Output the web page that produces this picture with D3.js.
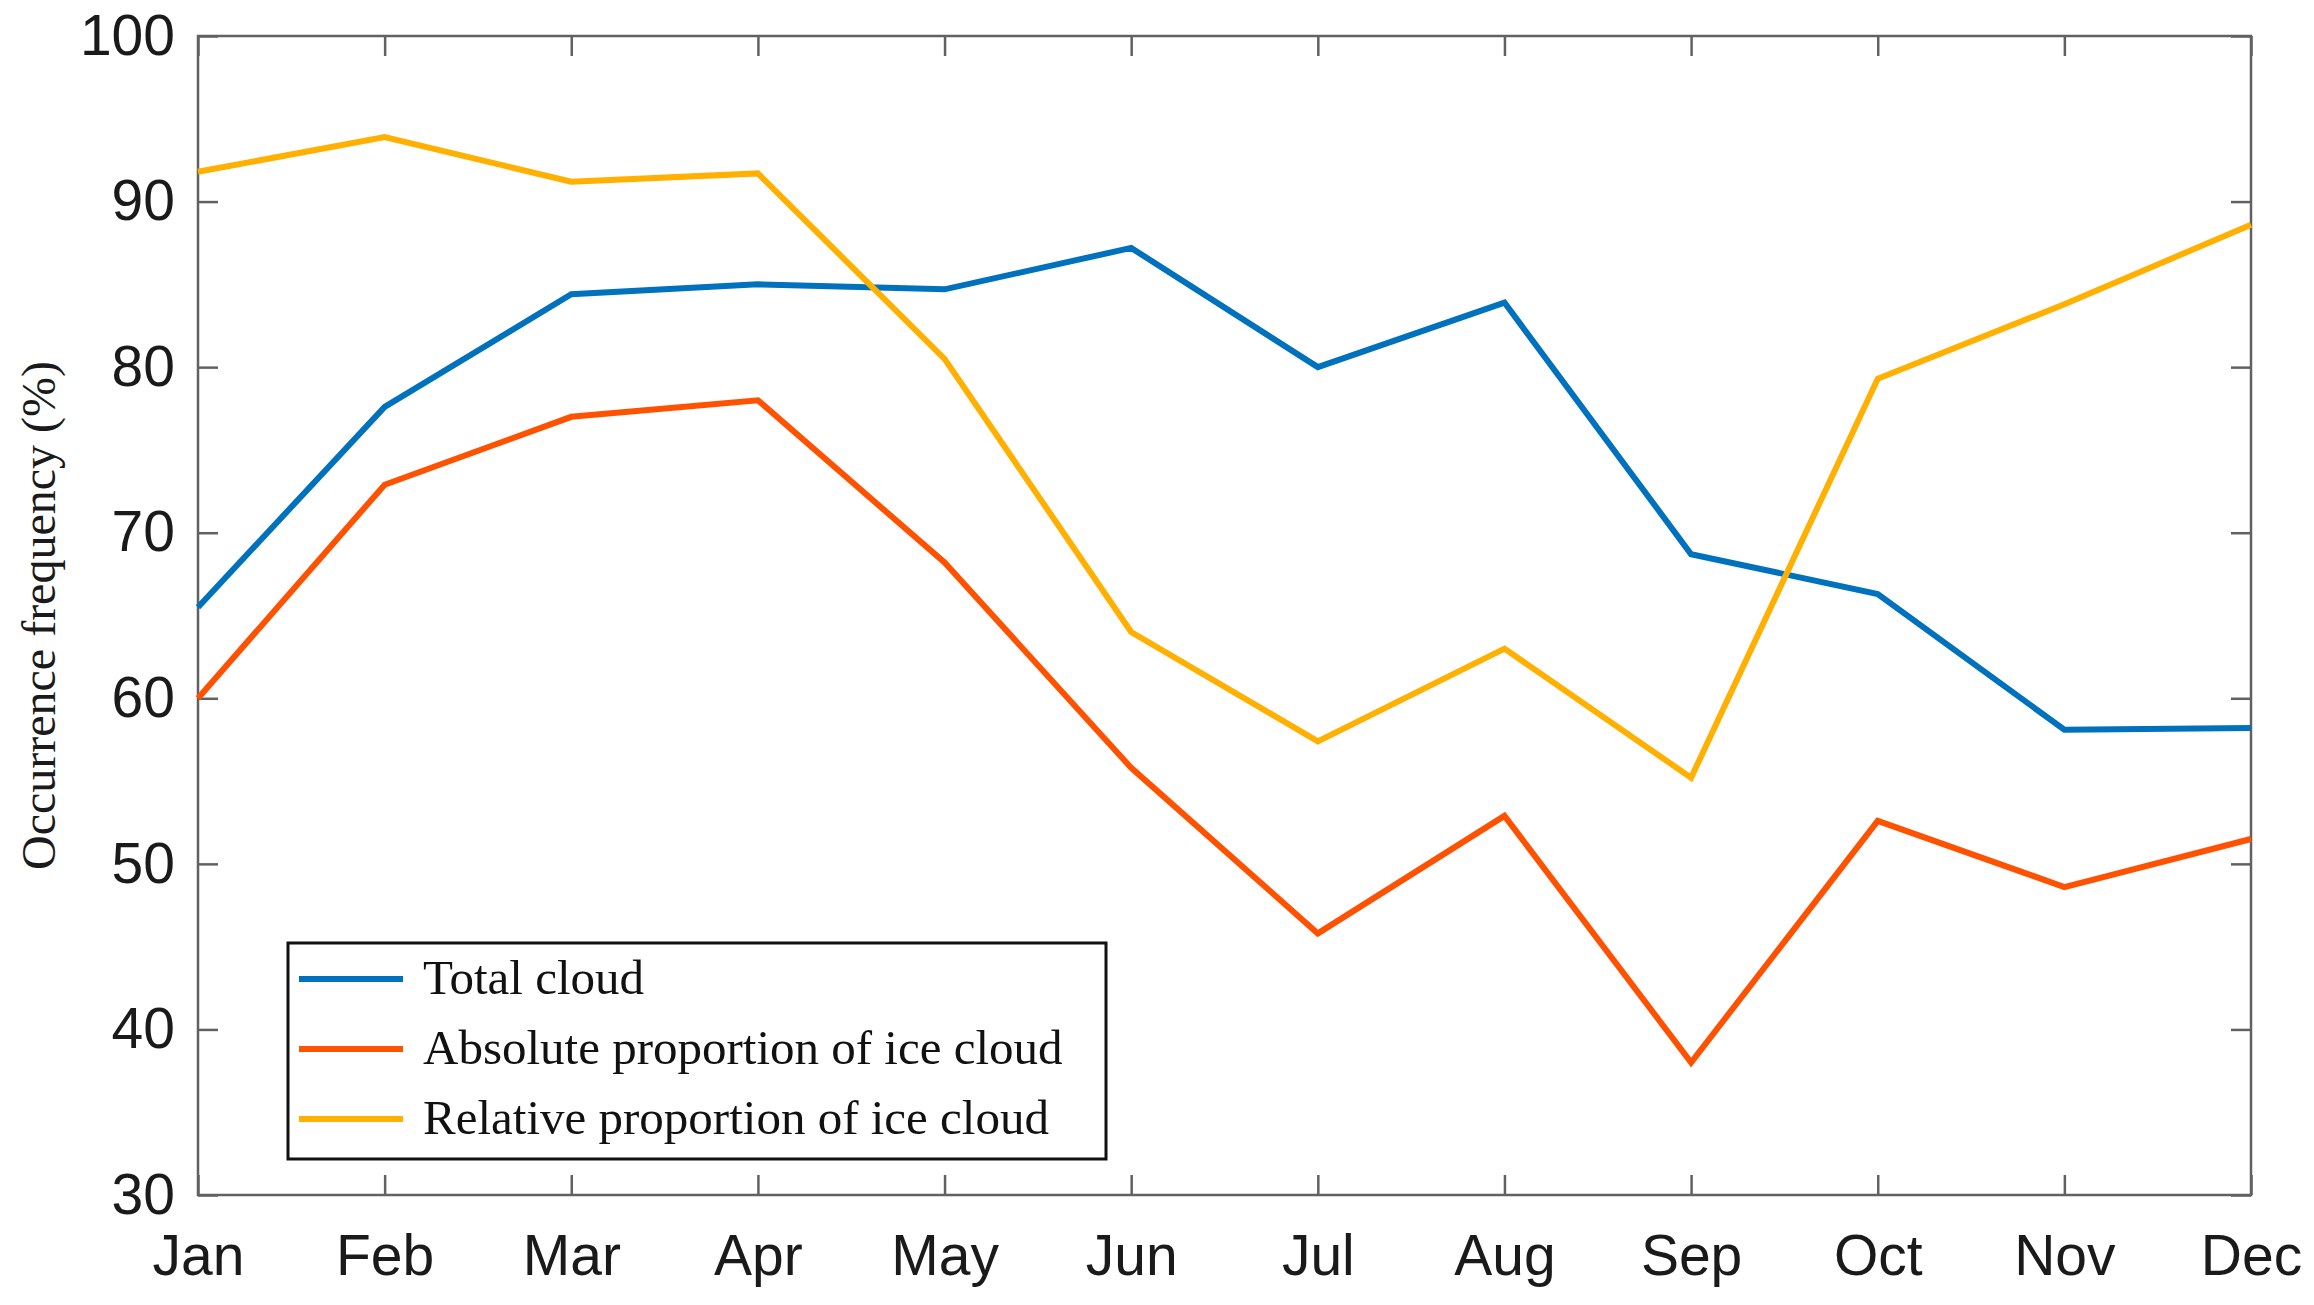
<!DOCTYPE html>
<html>
<head>
<meta charset="utf-8">
<script src="https://cdn.jsdelivr.net/npm/d3@7"></script>
<style>
  html, body { margin: 0; padding: 0; background: #fff; }
  svg { display: block; }
</style>
</head>
<body>
<svg id="chart" width="2314" height="1305"></svg>
<script>
const months = ["Jan","Feb","Mar","Apr","May","Jun","Jul","Aug","Sep","Oct","Nov","Dec"];
const yTicks = [30, 40, 50, 60, 70, 80, 90, 100];
const totalCloud = [65.5, 77.6, 84.4, 85.0, 84.7, 87.2, 80.0, 83.9, 68.7, 66.3, 58.1, 58.2];
const absoluteIce = [60.0, 72.9, 77.0, 78.0, 68.2, 55.8, 45.8, 52.9, 38.0, 52.6, 48.6, 51.5];
const relativeIce = [91.8, 93.9, 91.2, 91.7, 80.5, 64.0, 57.4, 63.0, 55.2, 79.3, 83.8, 88.6];
const seriesNames = ["Total cloud", "Absolute proportion of ice cloud", "Relative proportion of ice cloud"];
const seriesColors = ["#0072BD", "#FF5200", "#FFB000"];
const yLabel = "Occurrence frequency (%)";

const series = [totalCloud, absoluteIce, relativeIce];

const svg = d3.select("#chart");
const L = 198, R = 2251, T = 36, B = 1195;
const x = d3.scalePoint().domain(months).range([L, R]);
const y = d3.scaleLinear().domain([30, 100]).range([B, T]);

const axisColor = "#616161";
const tickFont = "'Liberation Sans', Arial, Helvetica, sans-serif";

function styleAxis(g) {
  g.select(".domain").remove();
  g.selectAll(".tick line").attr("stroke", axisColor).attr("stroke-width", 2.5);
  g.selectAll(".tick text").attr("fill", "#1a1a1a").style("font-family", tickFont).style("font-size", "57px");
}

svg.append("g").attr("transform", `translate(0,${B})`)
  .call(d3.axisBottom(x).tickSizeInner(-20).tickSizeOuter(0).tickPadding(40))
  .call(styleAxis);
svg.append("g").attr("transform", `translate(0,${T})`)
  .call(d3.axisTop(x).tickSizeInner(-20).tickSizeOuter(0).tickFormat(""))
  .call(styleAxis);
svg.append("g").attr("transform", `translate(${L},0)`)
  .call(d3.axisLeft(y).tickValues(yTicks).tickSizeInner(-20).tickSizeOuter(0).tickPadding(23).tickFormat(d3.format("d")))
  .call(styleAxis);
svg.append("g").attr("transform", `translate(${R},0)`)
  .call(d3.axisRight(y).tickValues(yTicks).tickSizeInner(-20).tickSizeOuter(0).tickFormat(""))
  .call(styleAxis);

// axes box
svg.append("rect")
  .attr("x", L).attr("y", T).attr("width", R - L).attr("height", B - T)
  .attr("fill", "none").attr("stroke", axisColor).attr("stroke-width", 2.5);

// lines
const line = d3.line().x((d, i) => x(months[i])).y(d => y(d));
series.forEach((s, k) => {
  svg.append("path")
    .datum(s)
    .attr("d", line)
    .attr("fill", "none")
    .attr("stroke", seriesColors[k])
    .attr("stroke-width", 6)
    .attr("stroke-linejoin", "miter")
    .attr("stroke-linecap", "butt");
});

// y label
svg.append("text")
  .attr("transform", `translate(55,${(T + B) / 2}) rotate(-90)`)
  .attr("text-anchor", "middle")
  .style("font-family", "'Liberation Serif', 'Times New Roman', serif")
  .style("font-size", "48px")
  .attr("fill", "#1a1a1a")
  .text(yLabel);

// legend
const lg = svg.append("g");
lg.append("rect")
  .attr("x", 288).attr("y", 943).attr("width", 818).attr("height", 216)
  .attr("fill", "#fff").attr("stroke", "#111").attr("stroke-width", 3);
seriesNames.forEach((name, k) => {
  const ly = 979 + k * 70;
  lg.append("line")
    .attr("x1", 299).attr("x2", 403).attr("y1", ly).attr("y2", ly)
    .attr("stroke", seriesColors[k]).attr("stroke-width", 6);
  lg.append("text")
    .attr("x", 423).attr("y", ly + 15)
    .style("font-family", "'Liberation Serif', 'Times New Roman', serif")
    .style("font-size", "49px")
    .attr("fill", "#111")
    .text(name);
});
</script>
</body>
</html>
